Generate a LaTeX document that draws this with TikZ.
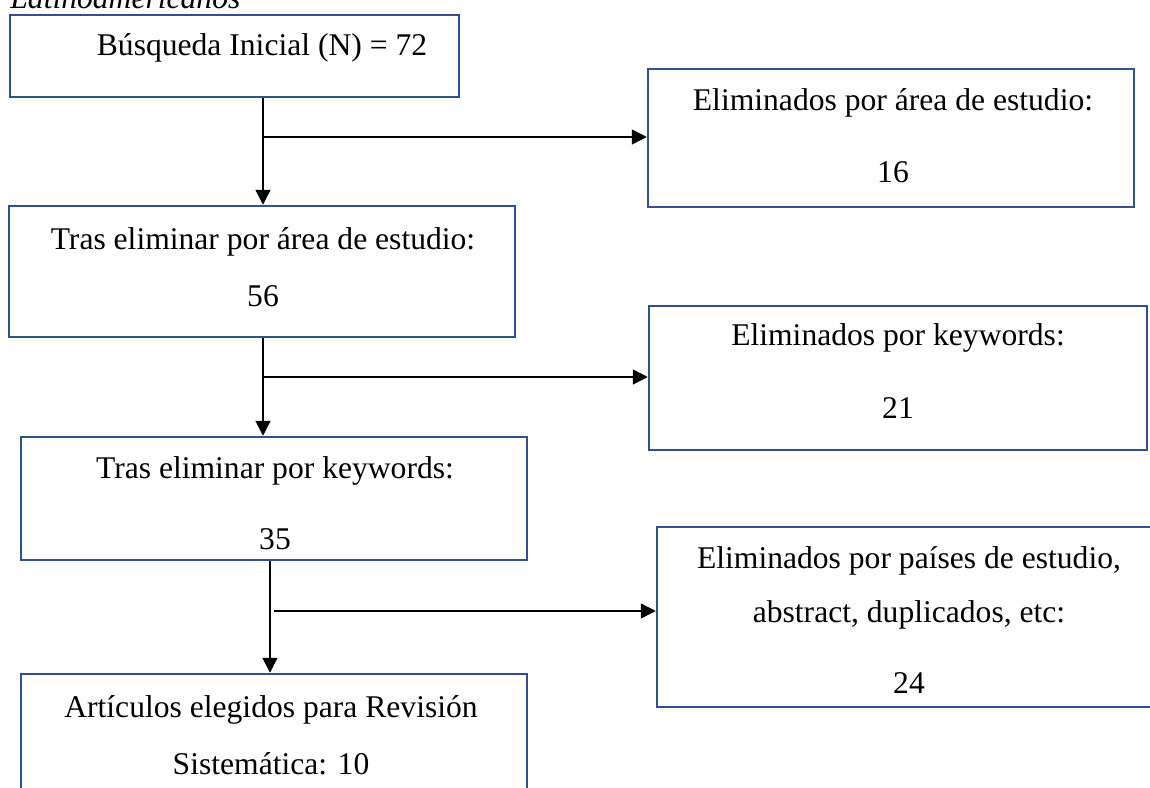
\documentclass[tikz,border=0pt]{standalone}
\usepackage{fontspec}
\setmainfont{Liberation Serif}
\usetikzlibrary{arrows.meta}
\definecolor{boxblue}{RGB}{47,82,143}
\tikzset{
  box/.style={draw=boxblue, line width=1.25pt, inner sep=0pt, rectangle},
  txt/.style={anchor=base, inner sep=0pt, font=\fontsize{15.8}{19}\selectfont},
  arr/.style={draw=black, line width=0.75pt, -{Triangle[length=7.5pt,width=7.5pt]}},
}
\begin{document}
\begin{tikzpicture}[x=0.5pt,y=-0.5pt]
\useasboundingbox (0,0) rectangle (1150,787);
\clip (0,0) rectangle (1150,787);
\fill[white] (0,0) rectangle (1150,787);

% caption (cut at top)
\node[anchor=base west, inner sep=0pt, font=\fontsize{15.8}{19}\selectfont\itshape] (cap) at (10,9) {Latinoamericanos};

% boxes
\node[box, minimum width=224.5pt, minimum height=41pt] (b1) at (234.5,56) {};
\node[box, minimum width=243pt, minimum height=69pt] (b2) at (891,138) {};
\node[box, minimum width=253pt, minimum height=65.5pt] (b3) at (262,271.5) {};
\node[box, minimum width=249pt, minimum height=72pt] (b4) at (898,378) {};
\node[box, minimum width=253pt, minimum height=61.5pt] (b5) at (274,498.5) {};
\node[box, minimum width=252pt, minimum height=90pt] (b6) at (909,617) {};
\node[box, minimum width=253pt, minimum height=63pt] (b7) at (274,737) {};

% texts
\node[txt] (t1) at (262,55) {Búsqueda Inicial (N) = 72};
\node[txt] (t2a) at (893,110) {Eliminados por área de estudio:};
\node[txt] (t2b) at (893,182) {16};
\node[txt] (t3a) at (263,249) {Tras eliminar por área de estudio:};
\node[txt] (t3b) at (263,306) {56};
\node[txt] (t4a) at (898,345) {Eliminados por keywords:};
\node[txt] (t4b) at (898,418) {21};
\node[txt] (t5a) at (275,478) {Tras eliminar por keywords:};
\node[txt] (t5b) at (275,549) {35};
\node[txt] (t6a) at (909,568) {Eliminados por países de estudio,};
\node[txt] (t6b) at (909,622) {abstract, duplicados, etc:};
\node[txt] (t6c) at (909,693) {24};
\node[txt] (t7a) at (271,717) {Artículos elegidos para Revisión};
\node[txt] (t7b) at (271,774) {Sistemática: 10};

% connectors
\coordinate (j1) at (263,137);
\coordinate (j2) at (263,377);
\coordinate (j3) at (270,611);
\coordinate (j3s) at (274,611);
\draw[arr] (b1.south -| j1) -- (b3.north -| j1);
\draw[arr] (j1) -- (b2.west |- j1);
\draw[arr] (b3.south -| j2) -- (b5.north -| j2);
\draw[arr] (j2) -- (b4.west |- j2);
\draw[arr] (b5.south -| j3) -- (b7.north -| j3);
\draw[arr] (j3s) -- (b6.west |- j3s);
\end{tikzpicture}
\end{document}
